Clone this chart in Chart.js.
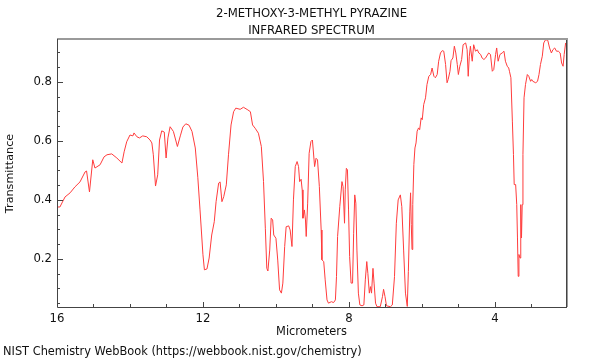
<!DOCTYPE html>
<html>
<head>
<meta charset="utf-8">
<script src="https://cdn.jsdelivr.net/npm/chart.js@4/dist/chart.umd.min.js"></script>
<style>
  html, body { margin: 0; padding: 0; background: #fff; }
  #wrap { width: 600px; height: 360px; }
</style>
</head>
<body>
<div id="wrap"><canvas id="irChart" width="600" height="360"></canvas></div>
<script>
// wavelength (micrometers)
const microns = [
  16.00, 15.92, 15.78, 15.64, 15.51, 15.37, 15.23, 15.19, 15.11, 15.02,
  14.96, 14.82, 14.71, 14.63, 14.50, 14.36, 14.22, 14.16, 14.09, 14.00,
  13.92, 13.89, 13.81, 13.74, 13.65, 13.54, 13.45, 13.40, 13.36, 13.30,
  13.24, 13.19, 13.13, 13.06, 13.01, 12.96, 12.90, 12.81, 12.70, 12.62,
  12.55, 12.47, 12.38, 12.30, 12.21, 12.14, 12.08, 12.00, 11.96, 11.89,
  11.83, 11.76, 11.69, 11.64, 11.57, 11.53, 11.48, 11.43, 11.36, 11.30,
  11.23, 11.16, 11.10, 10.98, 10.89, 10.77, 10.70, 10.64, 10.57, 10.48,
  10.40, 10.34, 10.29, 10.25, 10.22, 10.17, 10.13, 10.09, 10.06, 10.00,
  9.95, 9.90, 9.85, 9.81, 9.76, 9.72, 9.65, 9.61, 9.56, 9.52,
  9.47, 9.42, 9.38, 9.35, 9.31, 9.28, 9.26, 9.22, 9.19, 9.17,
  9.13, 9.09, 9.04, 9.00, 8.94, 8.90, 8.86, 8.81, 8.76, 8.74,
  8.69, 8.65, 8.60, 8.56, 8.48, 8.42, 8.37, 8.34, 8.31, 8.25,
  8.19, 8.16, 8.12, 8.10, 8.07, 8.04, 8.01, 7.98, 7.94, 7.90,
  7.87, 7.84, 7.81, 7.78, 7.74, 7.70, 7.64, 7.59, 7.55, 7.51,
  7.48, 7.44, 7.41, 7.38, 7.34, 7.31, 7.27, 7.23, 7.14, 7.08,
  7.05, 7.01, 6.97, 6.86, 6.81, 6.75, 6.70, 6.65, 6.59, 6.55,
  6.50, 6.45, 6.40, 6.37, 6.33, 6.31, 6.29, 6.27, 6.25, 6.22,
  6.19, 6.16, 6.13, 6.09, 6.06, 6.02, 5.99, 5.95, 5.90, 5.86,
  5.81, 5.76, 5.72, 5.67, 5.63, 5.58, 5.54, 5.49, 5.44, 5.40,
  5.35, 5.31, 5.28, 5.23, 5.20, 5.15, 5.11, 5.07, 5.03, 5.00,
  4.96, 4.91, 4.87, 4.80, 4.76, 4.73, 4.70, 4.67, 4.62, 4.58,
  4.53, 4.48, 4.44, 4.39, 4.35, 4.30, 4.26, 4.17, 4.12, 4.07,
  4.03, 3.98, 3.95, 3.91, 3.86, 3.80, 3.75, 3.71, 3.66, 3.62,
  3.60, 3.56, 3.52, 3.49, 3.47, 3.43, 3.40, 3.38, 3.36, 3.34,
  3.31, 3.29, 3.27, 3.25, 3.23, 3.20, 3.16, 3.11, 3.07, 3.02,
  2.99, 2.96, 2.88, 2.83, 2.79, 2.75, 2.70, 2.66, 2.61, 2.55,
  2.50, 2.45, 2.41, 2.36, 2.31, 2.26, 2.21, 2.17, 2.13, 2.10,
  2.06
];

const transmittance = [
  0.376, 0.376, 0.410, 0.424, 0.444, 0.461, 0.495, 0.498, 0.427, 0.536,
  0.508, 0.519, 0.546, 0.553, 0.556, 0.542, 0.525, 0.563, 0.597, 0.620,
  0.617, 0.627, 0.614, 0.610, 0.617, 0.614, 0.603, 0.593, 0.553, 0.447,
  0.485, 0.603, 0.634, 0.630, 0.542, 0.610, 0.648, 0.632, 0.581, 0.617,
  0.647, 0.658, 0.653, 0.632, 0.576, 0.475, 0.366, 0.214, 0.163, 0.166,
  0.203, 0.281, 0.326, 0.394, 0.457, 0.461, 0.394, 0.411, 0.451, 0.553,
  0.654, 0.699, 0.711, 0.707, 0.714, 0.705, 0.699, 0.654, 0.643, 0.626,
  0.581, 0.462, 0.304, 0.168, 0.159, 0.230, 0.338, 0.332, 0.281, 0.270,
  0.196, 0.095, 0.084, 0.118, 0.242, 0.309, 0.312, 0.298, 0.242, 0.400,
  0.513, 0.530, 0.513, 0.462, 0.470, 0.434, 0.338, 0.366, 0.332, 0.276,
  0.389, 0.558, 0.598, 0.603, 0.513, 0.541, 0.536, 0.445, 0.298, 0.197,
  0.191, 0.129, 0.061, 0.050, 0.055, 0.052, 0.061, 0.140, 0.276, 0.377,
  0.462, 0.445, 0.321, 0.434, 0.507, 0.502, 0.366, 0.208, 0.118, 0.118,
  0.287, 0.417, 0.389, 0.230, 0.084, 0.044, 0.041, 0.044, 0.129, 0.191,
  0.151, 0.084, 0.106, 0.084, 0.168, 0.118, 0.050, 0.038, 0.038, 0.072,
  0.097, 0.072, 0.041, 0.038, 0.044, 0.140, 0.321, 0.400, 0.417, 0.377,
  0.230, 0.084, 0.039, 0.158, 0.362, 0.424, 0.316, 0.232, 0.384, 0.520,
  0.576, 0.593, 0.633, 0.644, 0.638, 0.678, 0.672, 0.723, 0.746, 0.791,
  0.819, 0.825, 0.847, 0.819, 0.814, 0.825, 0.870, 0.898, 0.906, 0.904,
  0.859, 0.797, 0.808, 0.836, 0.872, 0.881, 0.921, 0.898, 0.859, 0.825,
  0.853, 0.876, 0.926, 0.932, 0.909, 0.819, 0.887, 0.921, 0.870, 0.926,
  0.904, 0.909, 0.898, 0.893, 0.881, 0.876, 0.880, 0.898, 0.893, 0.836,
  0.842, 0.893, 0.915, 0.870, 0.893, 0.898, 0.904, 0.870, 0.853, 0.847,
  0.836, 0.814, 0.667, 0.554, 0.452, 0.452, 0.384, 0.271, 0.141, 0.215,
  0.203, 0.384, 0.271, 0.384, 0.554, 0.746, 0.791, 0.825, 0.819, 0.802,
  0.808, 0.802, 0.797, 0.802, 0.825, 0.859, 0.887, 0.932, 0.943, 0.941,
  0.915, 0.898, 0.909, 0.915, 0.904, 0.904, 0.898, 0.864, 0.853, 0.893,
  0.932
];

const xTickLabels = [16, 12, 8, 4];
const yTickLabels = [0.2, 0.4, 0.6, 0.8];
const xRange = [2.05, 16];
const yRange = [0.037, 0.942];

const titleLines = ["2-METHOXY-3-METHYL PYRAZINE", "INFRARED SPECTRUM"];
const footerText = "NIST Chemistry WebBook (https://webbook.nist.gov/chemistry)";

const FONT = "'DejaVu Sans', sans-serif";

// frame, inward tick marks, title over the plot area and the source line
const framePlugin = {
  id: "frame",
  afterDraw(chart) {
    const { ctx, chartArea: a, scales } = chart;
    ctx.save();
    // top and right edges: grey
    ctx.strokeStyle = "#9a9a9a";
    ctx.lineWidth = 2;
    ctx.beginPath();
    ctx.moveTo(a.left, a.top - 1);
    ctx.lineTo(a.right + 1, a.top - 1);
    ctx.lineTo(a.right + 1, a.bottom);
    ctx.stroke();
    // left and bottom edges: dark
    ctx.strokeStyle = "#444";
    ctx.lineWidth = 1;
    ctx.beginPath();
    ctx.moveTo(a.left + 0.5, a.top - 1);
    ctx.lineTo(a.left + 0.5, a.bottom + 0.5);
    ctx.lineTo(a.right + 1, a.bottom + 0.5);
    ctx.moveTo(a.right + 0.5, a.top);
    ctx.lineTo(a.right + 0.5, a.bottom);
    ctx.stroke();

    ctx.beginPath();
    scales.x.ticks.forEach(t => {
      const px = Math.round(scales.x.getPixelForValue(t.value)) + 0.5;
      const len = xTickLabels.includes(t.value) ? 5 : 3;
      ctx.moveTo(px, a.bottom);
      ctx.lineTo(px, a.bottom - len);
    });
    scales.y.ticks.forEach(t => {
      const py = Math.round(scales.y.getPixelForValue(t.value)) + 0.5;
      const major = yTickLabels.some(v => Math.abs(v - t.value) < 1e-6);
      ctx.moveTo(a.left, py);
      ctx.lineTo(a.left + (major ? 6 : 3), py);
    });
    ctx.stroke();

    ctx.fillStyle = "#111";
    ctx.textBaseline = "middle";
    ctx.font = "11.7px " + FONT;
    ctx.textAlign = "center";
    const cx = (a.left + a.right) / 2;
    ctx.fillText(titleLines[0], cx, 13.5);
    ctx.fillText(titleLines[1], cx, 30.5);

    ctx.font = "11.4px " + FONT;
    ctx.textAlign = "left";
    ctx.fillText(footerText, 3, 352.5);
    ctx.restore();
  }
};

new Chart(document.getElementById("irChart"), {
  type: "line",
  data: {
    labels: microns,
    datasets: [{
      data: microns.map((x, i) => ({ x, y: transmittance[i] })),
      borderColor: "rgb(255, 60, 60)",
      borderWidth: 1,
      pointRadius: 0,
      tension: 0,
      fill: false,
    }],
  },
  options: {
    responsive: false,
    animation: false,
    events: [],
    layout: { padding: { left: 0, right: 34, top: 40, bottom: 16 } },
    plugins: {
      legend: { display: false },
      tooltip: { enabled: false },
      title: { display: false },
    },
    scales: {
      x: {
        type: "linear",
        reverse: true,
        min: xRange[0],
        max: xRange[1],
        afterBuildTicks: s => {
          const ticks = [];
          for (let v = 16; v >= 3; v--) ticks.push({ value: v });
          s.ticks = ticks;
        },
        afterFit: s => { s.height = 37; },
        grid: { display: false, drawTicks: false },
        border: { display: false },
        ticks: {
          autoSkip: false,
          maxRotation: 0,
          padding: 5,
          color: "#111",
          font: { family: FONT, size: 11.7 },
          callback: v => (xTickLabels.includes(v) ? String(v) : ""),
        },
        title: {
          display: true,
          text: "Micrometers",
          color: "#111",
          font: { family: FONT, size: 11.4 },
          padding: { top: 0, bottom: 5 },
        },
      },
      y: {
        type: "linear",
        min: yRange[0],
        max: yRange[1],
        afterBuildTicks: s => {
          const ticks = [];
          for (let i = 1; i <= 18; i++) ticks.push({ value: Math.round(i * 5) / 100 });
          s.ticks = ticks;
        },
        afterFit: s => { s.width = 57; },
        grid: { display: false, drawTicks: false },
        border: { display: false },
        ticks: {
          autoSkip: false,
          padding: 5,
          color: "#111",
          font: { family: FONT, size: 11.7 },
          callback: v => {
            const hit = yTickLabels.find(t => Math.abs(t - v) < 1e-6);
            return hit !== undefined ? hit.toFixed(1) : "";
          },
        },
        title: {
          display: true,
          text: "Transmittance",
          color: "#111",
          font: { family: FONT, size: 11.2 },
          padding: { top: 3, bottom: 0 },
        },
      },
    },
  },
  plugins: [framePlugin],
});
</script>
</body>
</html>
